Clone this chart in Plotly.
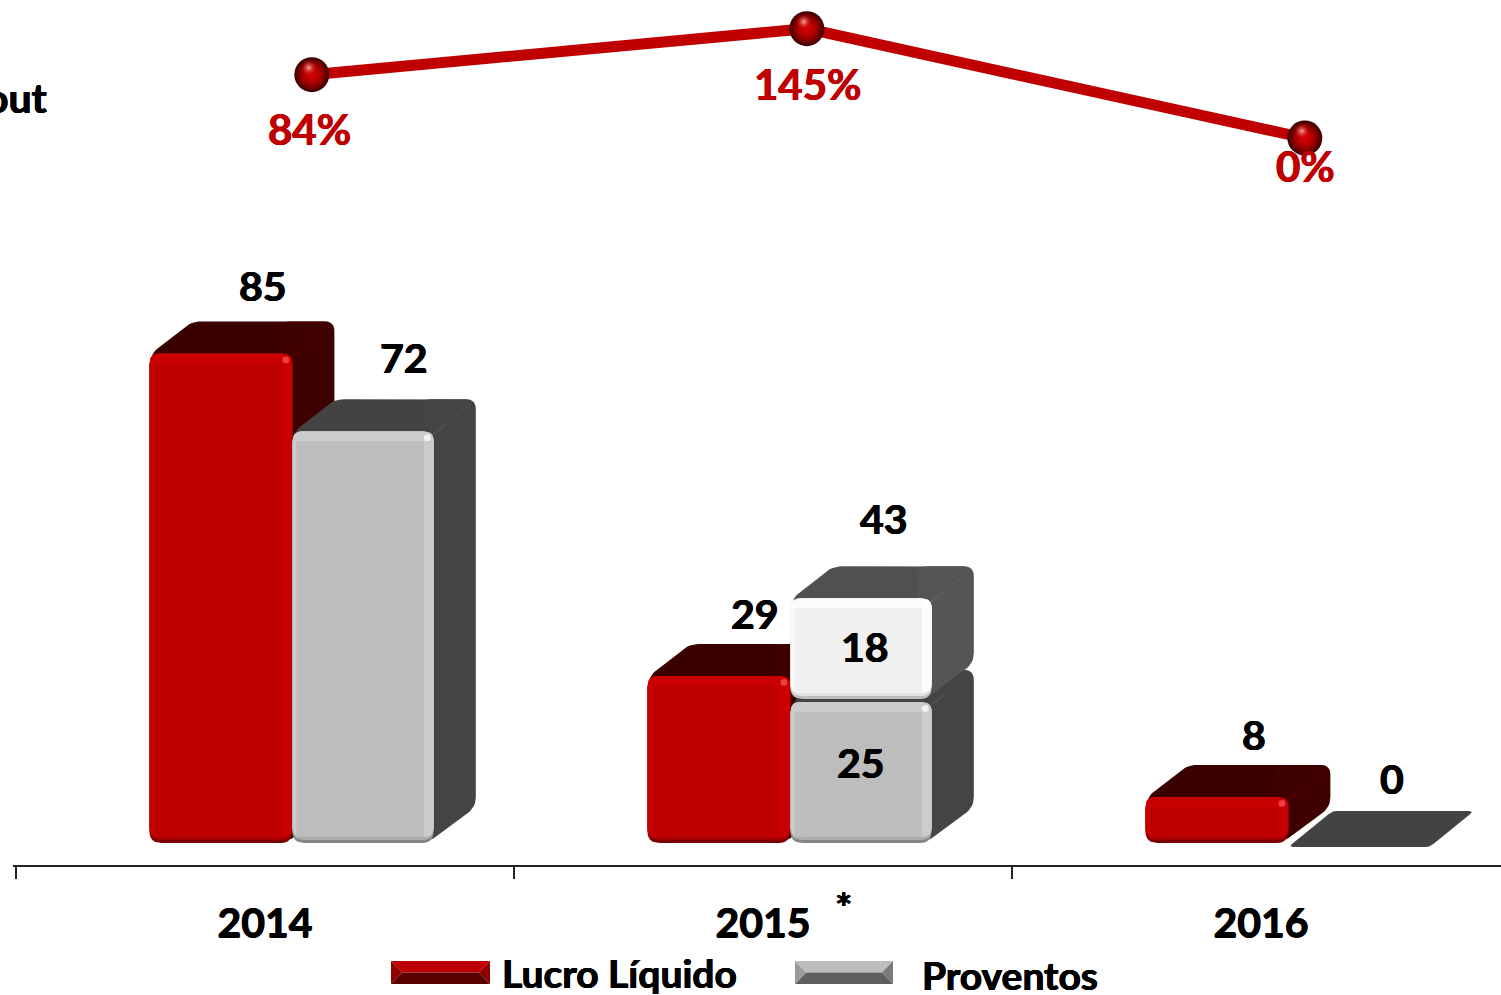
import plotly.graph_objects as go

# data
years = ["2014", "2015", "2016"]
lucro = [85, 29, 8]
proventos = [72, 25, 0]
extra_2015 = 18
total_2015 = 43
payout = [84, 145, 0]
payout_labels = ["84%", "145%", "0%"]
payout_offset = [0.094, 0.088, 0.088]

W, H = 1501, 995
FONT = "Lato"
SHADOW = "0.5px 0 0 {0}, -0.5px 0 0 {0}, 0 0.4px 0 {0}"
CAT_PX = 498      # pixels per category
VAL_PX = 5.76     # pixels per value unit
PAY_PX = 0.754    # pixels per payout percent
LEFT = 13
X0_PX = 265       # first category centre
Y0_PX = 843       # value 0
P0_PX = 138       # payout 0

x_range = [(LEFT - X0_PX) / CAT_PX, (W - X0_PX) / CAT_PX]
y_range = [(Y0_PX - H) / VAL_PX, Y0_PX / VAL_PX]
y2_range = [(P0_PX - H) / PAY_PX, P0_PX / PAY_PX]

RED = dict(main="#BE0000", top_band="#CA0000", low="#A80000", bottom="#7A0000", spot="#E84040",
           top="#3A0000", side="#3F0000", edge="#620000")
GREY = dict(main="#BDBDBD", top_band="#CCCCCC", low="#ABABAB", bottom="#858585", spot="#F2F2F2",
            top="#434343", side="#444444", edge="#5C5C5C")
WHITE = dict(main="#F0F0F0", top_band="#FBFBFB", low="#E2E2E2", bottom="#BEBEBE", spot="#FFFFFF",
             top="#505050", side="#555555", edge="#686868")

fig = go.Figure()


def rounded(pts, r):
    # pts are in pixel-sized units, returns polygon with rounded corners
    out = []
    n = len(pts)
    for i in range(n):
        px, py = pts[i - 1]
        cx, cy = pts[i]
        nx, ny = pts[(i + 1) % n]
        d1 = max(((px - cx) ** 2 + (py - cy) ** 2) ** 0.5, 1e-6)
        d2 = max(((nx - cx) ** 2 + (ny - cy) ** 2) ** 0.5, 1e-6)
        rr = min(r, d1 / 2, d2 / 2)
        ax, ay = cx + (px - cx) * rr / d1, cy + (py - cy) * rr / d1
        bx, by = cx + (nx - cx) * rr / d2, cy + (ny - cy) * rr / d2
        for k in range(7):
            t = k / 6
            out.append(((1 - t) ** 2 * ax + 2 * t * (1 - t) * cx + t ** 2 * bx,
                        (1 - t) ** 2 * ay + 2 * t * (1 - t) * cy + t ** 2 * by))
    return out


def poly(pts, color, r=0):
    if r:
        pts = rounded(pts, r)
    xs = [p[0] / CAT_PX for p in pts]
    ys = [p[1] / VAL_PX for p in pts]
    fig.add_trace(go.Scatter(x=xs + xs[:1], y=ys + ys[:1], mode="lines", fill="toself",
                             fillcolor=color, line=dict(width=0), hoverinfo="skip",
                             showlegend=False))


def box(x0, x1, lo, hi, c, dx=42, dy=32, trim=0):
    # x in categories, lo/hi in values; everything else is a pixel-sized offset
    l, r = x0 * CAT_PX, x1 * CAT_PX
    b, t = lo * VAL_PX, hi * VAL_PX - trim
    if hi - lo <= 0:
        poly([(l, t), (l + dx + 2, t + dy), (r + dx + 2, t + dy), (r, t)], c["top"], 5)
        return
    # top face runs on behind the front so its lower corners stay hidden
    poly([(l + 2, t - 14), (l + 2, t), (l + dx, t + dy), (r + dx, t + dy), (r, t - 14)], c["top"], 10)
    poly([(r - 14, t - 10), (r - 14, t + dy), (r + dx, t + dy), (r + dx, b + dy + 4), (r - 6, b)], c["side"], 10)
    poly([(r - 8, t - 8), (r + dx - 12, t + dy - 11), (r + dx - 5, t + dy - 4), (r + 2, t - 2)], c["edge"], 3)
    poly([(l, b), (l, t), (r, t), (r, b)], c["bottom"], 12)
    poly([(l, b + 3), (l, t), (r, t), (r, b + 3)], c["low"], 11)
    poly([(l, b + 6), (l, t), (r, t), (r, b + 6)], c["top_band"], 10)
    poly([(l + 4, b + 6), (l + 4, t - 10), (r - 10, t - 10), (r - 10, b + 6)], c["main"])
    poly([(r - 10, t - 3), (r - 10, t - 10), (r - 3, t - 10), (r - 3, t - 3)], c["spot"], 4)


OFF_RED = (-0.232, 0.055)
OFF_GREY = (0.055, 0.339)

for i in range(len(years)):
    box(i + OFF_RED[0], i + OFF_RED[1], 0, lucro[i], RED)
    if proventos[i] == 0:
        box(i + OFF_GREY[0], i + OFF_GREY[1], 0, 0, GREY, dy=36, trim=4)
    else:
        box(i + OFF_GREY[0], i + OFF_GREY[1], 0, proventos[i], GREY, trim=3)
    if i == 1:
        box(i + OFF_GREY[0], i + OFF_GREY[1], proventos[i], total_2015, WHITE, trim=3)

# payout line on its own scale
pay_x = [i + payout_offset[i] for i in range(len(years))]
fig.add_trace(go.Scatter(x=pay_x, y=payout, yaxis="y2", mode="lines",
                         line=dict(color="#C00000", width=11), hoverinfo="skip", showlegend=False))
# for a radial gradient the gradient colour is the centre one
fig.add_trace(go.Scatter(x=pay_x, y=payout, yaxis="y2", mode="markers",
                         marker=dict(size=35, color="#3A0000", line=dict(width=0),
                                     gradient=dict(type="radial", color="#D00000")),
                         hoverinfo="skip", showlegend=False))
fig.add_trace(go.Scatter(x=pay_x, y=payout, yaxis="y2", mode="markers",
                         marker=dict(size=33, color="rgba(200,0,0,0)", line=dict(width=0),
                                     gradient=dict(type="radial", color="#D40000")),
                         hoverinfo="skip", showlegend=False))
fig.add_trace(go.Scatter(x=[v - 3 / CAT_PX for v in pay_x], y=[v + 7 / PAY_PX for v in payout],
                         yaxis="y2", mode="markers",
                         marker=dict(size=15, color="rgba(220,30,30,0)", line=dict(width=0),
                                     gradient=dict(type="radial", color="rgba(255,170,170,0.95)")),
                         hoverinfo="skip", showlegend=False))

# this trace only makes the category axis show up
fig.add_trace(go.Scatter(x=years, y=[None] * len(years), xaxis="x2", mode="markers",
                         hoverinfo="skip", showlegend=False))

notes = []


def bold(size=41, color="black"):
    return dict(family=FONT, size=size, color=color, weight="bold", shadow=SHADOW.format(color))


def label(text, x, y, xs=0, ys=0, color="black", size=41, yref="y"):
    notes.append(dict(text=text, x=x, y=y, xref="x", yref=yref, xshift=xs, yshift=ys,
                      showarrow=False, xanchor="center", yanchor="middle", font=bold(size, color)))


# value labels, placed relative to their bars
label(str(lucro[0]), 0, lucro[0], xs=-2, ys=68)
label(str(proventos[0]), 0, proventos[0], xs=139, ys=71)
label(str(lucro[1]), 1, lucro[1], xs=-8, ys=62)
label(str(proventos[1]), 1, proventos[1], xs=98, ys=-63)
label(str(extra_2015), 1, total_2015, xs=102, ys=-51)
label(str(total_2015), 1, total_2015, xs=121, ys=77)
label(str(lucro[2]), 2, lucro[2], xs=-7, ys=62)
label(str(proventos[2]), 2, proventos[2], xs=131, ys=65)
for i in range(len(years)):
    label(payout_labels[i], pay_x[i], payout[i], xs=[-2, 1, 1][i], ys=[-54, -55, -28][i],
          color="#C00000", size=42, yref="y2")

notes.append(dict(text="*", xref="paper", yref="paper", x=843 / W, y=1 - 907 / H, showarrow=False,
                  xanchor="center", yanchor="middle", font=bold()))
notes.append(dict(text="Payout", xref="paper", yref="paper", x=50 / W, y=1 - 97 / H, showarrow=False,
                  xanchor="right", yanchor="middle", font=bold()))
for text, px, py in [("Lucro Líquido", 500, 973), ("Proventos", 920, 975)]:
    notes.append(dict(text=text, xref="paper", yref="paper", x=px / W, y=1 - py / H, showarrow=False,
                      xanchor="left", yanchor="middle", font=bold(39)))


def key(x0, x1, y0, y1, top, bottom, left, right):
    ins = 11
    ym = (y0 + y1) / 2
    shapes = []
    for pts, col in [([(x0, y0), (x1, y0), (x1 - ins, ym), (x0 + ins, ym)], top),
                     ([(x0, y1), (x1, y1), (x1 - ins, ym), (x0 + ins, ym)], bottom),
                     ([(x0, y0), (x0 + ins, ym), (x0, y1)], left),
                     ([(x1, y0), (x1 - ins, ym), (x1, y1)], right)]:
        path = "M" + " L".join(f"{p[0] / W:.5f},{1 - p[1] / H:.5f}" for p in pts) + " Z"
        shapes.append(dict(type="path", path=path, xref="paper", yref="paper",
                           fillcolor=col, line=dict(width=0), layer="above"))
    return shapes


legend_shapes = key(391, 490, 961, 984, "#BE0000", "#5A0000", "#8E0000", "#8E0000") \
    + key(795, 893, 961, 984, "#BDBDBD", "#5E5E5E", "#9A9A9A", "#7A7A7A")

fig.update_layout(
    width=W, height=H,
    margin=dict(l=0, r=0, t=0, b=0),
    paper_bgcolor="white", plot_bgcolor="white",
    annotations=notes,
    shapes=legend_shapes,
    showlegend=False,
    xaxis=dict(domain=[LEFT / W, 1], range=x_range, visible=False, fixedrange=True),
    xaxis2=dict(domain=[LEFT / W, 1], type="category", categoryorder="array", categoryarray=years,
                range=x_range, tickson="boundaries", ticks="outside", ticklen=12, tickwidth=1.5,
                tickcolor="#222222", showline=True, linecolor="#222222", linewidth=2,
                showgrid=False, zeroline=False, anchor="free", position=1 - 866 / H,
                overlaying="x", ticklabelstandoff=21, fixedrange=True, tickfont=bold()),
    yaxis=dict(domain=[0, 1], range=y_range, visible=False, fixedrange=True),
    yaxis2=dict(domain=[0, 1], range=y2_range, overlaying="y", visible=False, fixedrange=True),
)

fig.write_html("out.html", config=dict(displayModeBar=False),
               post_script="document.body.style.margin='0';document.body.style.overflow='hidden';")
